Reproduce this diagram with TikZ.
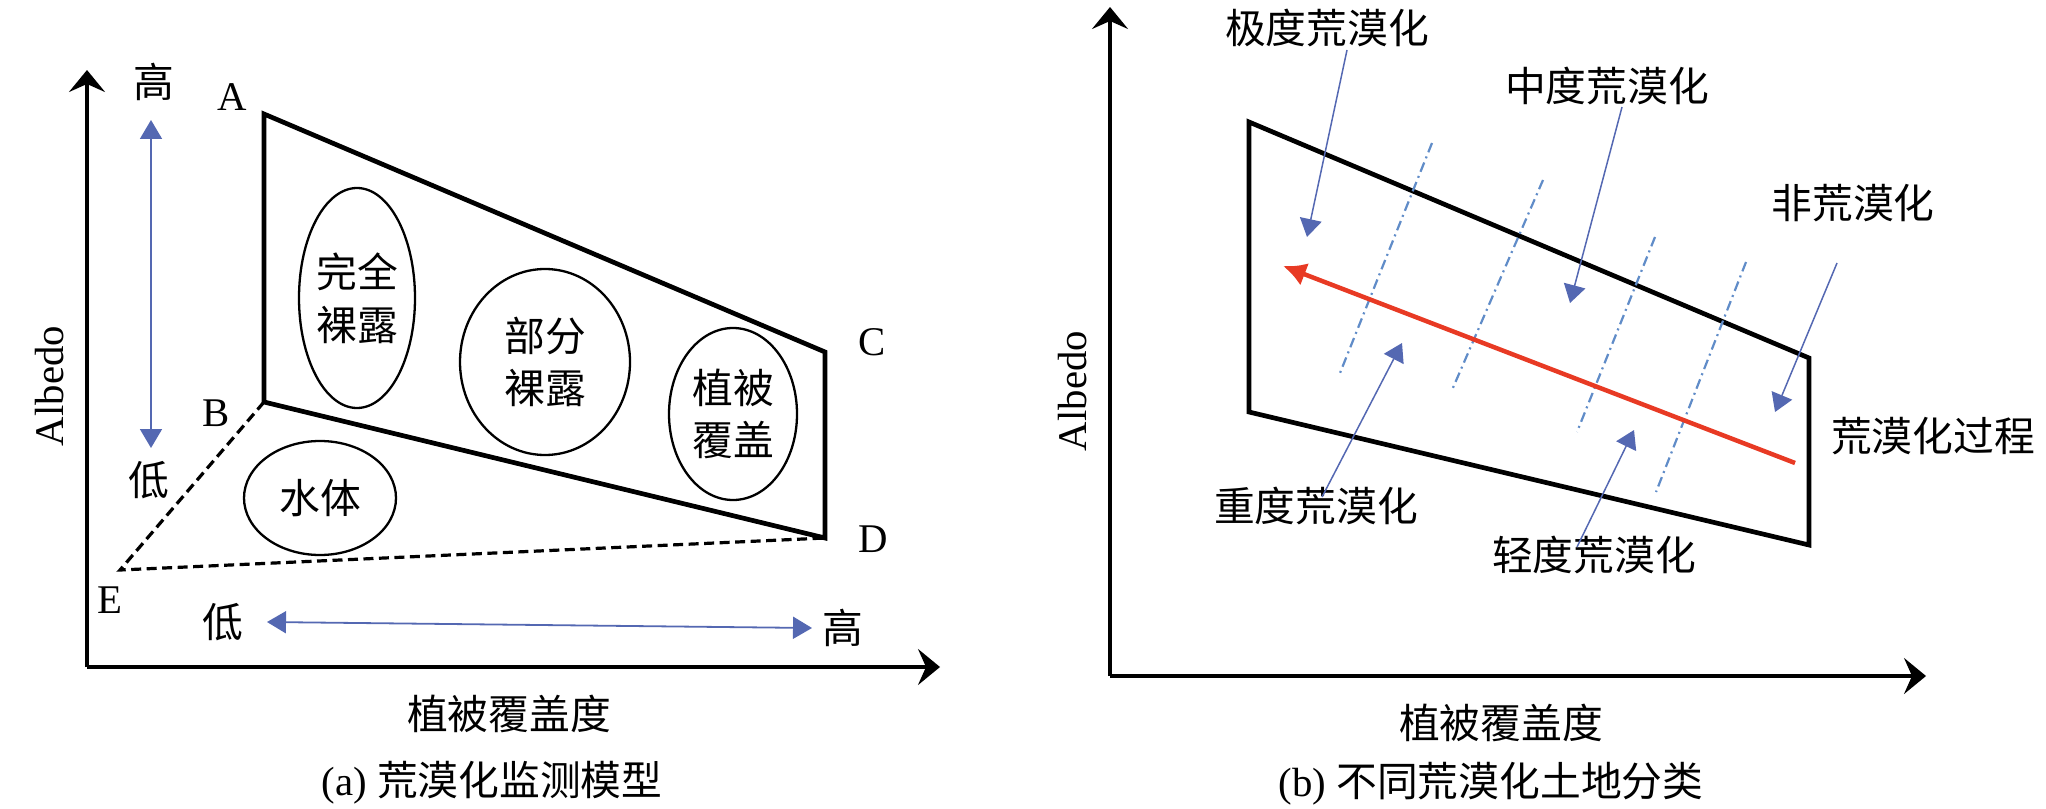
\documentclass[tikz,border=0pt]{standalone}
\usepackage{fontspec}
\setmainfont{Liberation Serif}
\newfontfamily\cjk{Noto Sans CJK SC}
\usetikzlibrary{arrows.meta, shapes.geometric, calc}
\definecolor{arrowblue}{RGB}{84,104,178}
\definecolor{dashblue}{RGB}{96,140,200}
\definecolor{processred}{RGB}{232,58,36}
\tikzset{
  lbl/.style={inner sep=0pt},
  axis/.style={line width=0.33mm, -{Stealth[length=2.2mm,width=3.6mm,inset=0.8mm]}},
  edge/.style={line width=0.47mm, line join=miter},
  hidden/.style={line width=0.32mm, dash pattern=on 1mm off 0.55mm},
  zone/.style={ellipse, draw, line width=0.23mm, inner sep=0pt, align=center},
  scalearrow/.style={arrowblue, line width=0.18mm,
    {Triangle[length=1.9mm,width=2.2mm]}-{Triangle[length=1.9mm,width=2.2mm]}},
  pointer/.style={arrowblue, line width=0.15mm, -{Triangle[length=1.8mm,width=2.2mm]}},
  border/.style={dashblue, line width=0.22mm, dash pattern=on 1mm off 0.45mm on 0.2mm off 0.45mm},
  process/.style={processred, line width=0.45mm, -{Latex[length=2.3mm,width=2.4mm]}}
}

\begin{document}
\begin{tikzpicture}[x=0.1mm, y=-0.1mm, font=\fontsize{11.6}{15}\selectfont]
\useasboundingbox (0,0) rectangle (2046,808);
% (a)
\coordinate (Oa) at (87,667); \coordinate (Ya) at (87,70); \coordinate (Xa) at (940,667);
\draw[axis] (Oa) -- (Ya);
\draw[axis] (Oa) -- (Xa);
\node[lbl, rotate=90] (albedoA) at (50,386) {Albedo};
\node[lbl] (xlabelA) at (509,714) {\cjk 植被覆盖度};
\node[lbl] (captionA) at (492,783) {(a) {\cjk 荒漠化监测模型}};
\coordinate (A) at (264,114); \coordinate (B) at (264,402);
\coordinate (C) at (825,352); \coordinate (D) at (825,538);
\coordinate (E) at (120,570);
\draw[edge] (A) -- (C) -- (D) -- (B) -- cycle;
\draw[hidden] (B) -- (E) -- (D);
\node[lbl] (labA) at (232,97) {A};
\node[lbl] (labB) at (216,413) {B};
\node[lbl] (labC) at (872,342) {C};
\node[lbl] (labD) at (873,539) {D};
\node[lbl] (labE) at (110,600) {E};
\node[zone, minimum width=11.6mm, minimum height=22mm] (bare) at (357,298) {\cjk 完全\\\cjk 裸露};
\node[zone, minimum width=17mm, minimum height=18.6mm] (partial) at (545,362) {\cjk 部分\\\cjk 裸露};
\node[zone, minimum width=12.8mm, minimum height=17.2mm] (veg) at (733,414) {\cjk 植被\\\cjk 覆盖};
\node[zone, minimum width=15.2mm, minimum height=11.4mm] (water) at (320,498) {\cjk 水体};
\node[lbl] (hiY) at (154,82) {\cjk 高};
\node[lbl] (loY) at (149,480) {\cjk 低};
\node[lbl] (loX) at (223,622) {\cjk 低};
\node[lbl] (hiX) at (843,628) {\cjk 高};
\coordinate (vt) at (151,120); \coordinate (vb) at (151,448);
\coordinate (hl) at (267,622); \coordinate (hr) at (812,628);
\draw[scalearrow] (vt) -- (vb);
\draw[scalearrow] (hl) -- (hr);
% (b)
\coordinate (Ob) at (1110,676); \coordinate (Yb) at (1110,7); \coordinate (Xb) at (1926,676);
\draw[axis] (Ob) -- (Yb);
\draw[axis] (Ob) -- (Xb);
\node[lbl, rotate=90] (albedoB) at (1073,391) {Albedo};
\node[lbl] (xlabelB) at (1501,723) {\cjk 植被覆盖度};
\node[lbl] (captionB) at (1491,784) {(b) {\cjk 不同荒漠化土地分类}};
\coordinate (P) at (1249,122); \coordinate (Q) at (1809,358);
\coordinate (R) at (1809,545); \coordinate (S) at (1249,412);
\draw[edge] (P) -- (Q) -- (R) -- (S) -- cycle;
\foreach \xa/\ya/\xb/\yb in {1432/143/1340/373, 1543/180/1452/390, 1655/237/1577/432, 1746/262/1656/492}
  \draw[border] (\xa,\ya) -- (\xb,\yb);
\coordinate (pstart) at (1795,463); \coordinate (pend) at (1283,266);
\draw[process] (pstart) -- (pend);
\node[lbl] (extreme) at (1327,28) {\cjk 极度荒漠化};
\node[lbl] (moderate) at (1607,86) {\cjk 中度荒漠化};
\node[lbl] (nondes) at (1853,203) {\cjk 非荒漠化};
\node[lbl] (procLabel) at (1933,436) {\cjk 荒漠化过程};
\node[lbl] (severe) at (1316,506) {\cjk 重度荒漠化};
\node[lbl] (light) at (1594,555) {\cjk 轻度荒漠化};
\coordinate (extremeT) at (1347,50);  \coordinate (extremeH) at (1307,237);
\coordinate (moderateT) at (1622,107); \coordinate (moderateH) at (1570,303);
\coordinate (nondesT) at (1837,263);  \coordinate (nondesH) at (1775,412);
\coordinate (severeT) at (1322,497);  \coordinate (severeH) at (1402,343);
\coordinate (lightT) at (1577,547);   \coordinate (lightH) at (1634,430);
\foreach \n in {extreme, moderate, nondes, severe, light}
  \draw[pointer] (\n T) -- (\n H);
\end{tikzpicture}
\end{document}
